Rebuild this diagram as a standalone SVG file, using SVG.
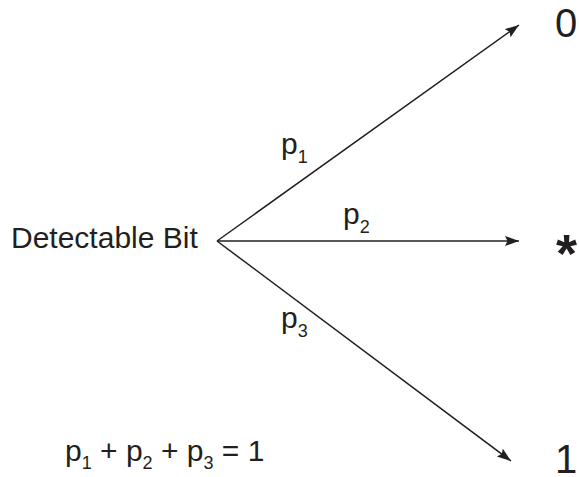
<svg xmlns="http://www.w3.org/2000/svg" width="579" height="477" viewBox="0 0 579 477">
<defs>
<marker id="arr" markerUnits="userSpaceOnUse" markerWidth="15" markerHeight="11" refX="14" refY="5" orient="auto">
<path d="M0,0 L14,5 L0,10 L2.5,5 z" fill="#231f20"/>
</marker>
<style>
text{font-family:"Liberation Sans",Arial,sans-serif;fill:#231f20}
.m{font-size:30px}
.big{font-size:40px}
.s{font-size:18px}
.ln{stroke:#231f20;stroke-width:1.5;fill:none;marker-end:url(#arr)}
</style>
</defs>
<g id="connectors">
<line class="ln" x1="217" y1="241" x2="519" y2="25"/>
<line class="ln" x1="217" y1="241" x2="519" y2="241"/>
<line class="ln" x1="217" y1="241" x2="511" y2="461"/>
</g>
<g id="source"><text class="m" x="11" y="248">Detectable Bit</text></g>
<g id="out0"><text class="big" x="555" y="37">0</text></g>
<g id="outStar"><text x="556" y="272" style="font-size:54px;font-weight:bold">*</text></g>
<g id="out1"><text class="big" x="555" y="473">1</text></g>
<g id="labels">
<text class="m" x="281" y="154">p<tspan class="s" dy="9">1</tspan></text>
<text class="m" x="343" y="224">p<tspan class="s" dy="9">2</tspan></text>
<text class="m" x="281" y="328">p<tspan class="s" dy="9">3</tspan></text>
</g>
<g id="equation">
<text class="m" x="65" y="461">p<tspan class="s" dy="8">1</tspan><tspan dy="-8"> + p</tspan><tspan class="s" dy="8">2</tspan><tspan dy="-8"> + p</tspan><tspan class="s" dy="8">3</tspan><tspan dy="-8"> = 1</tspan></text>
</g>
</svg>
